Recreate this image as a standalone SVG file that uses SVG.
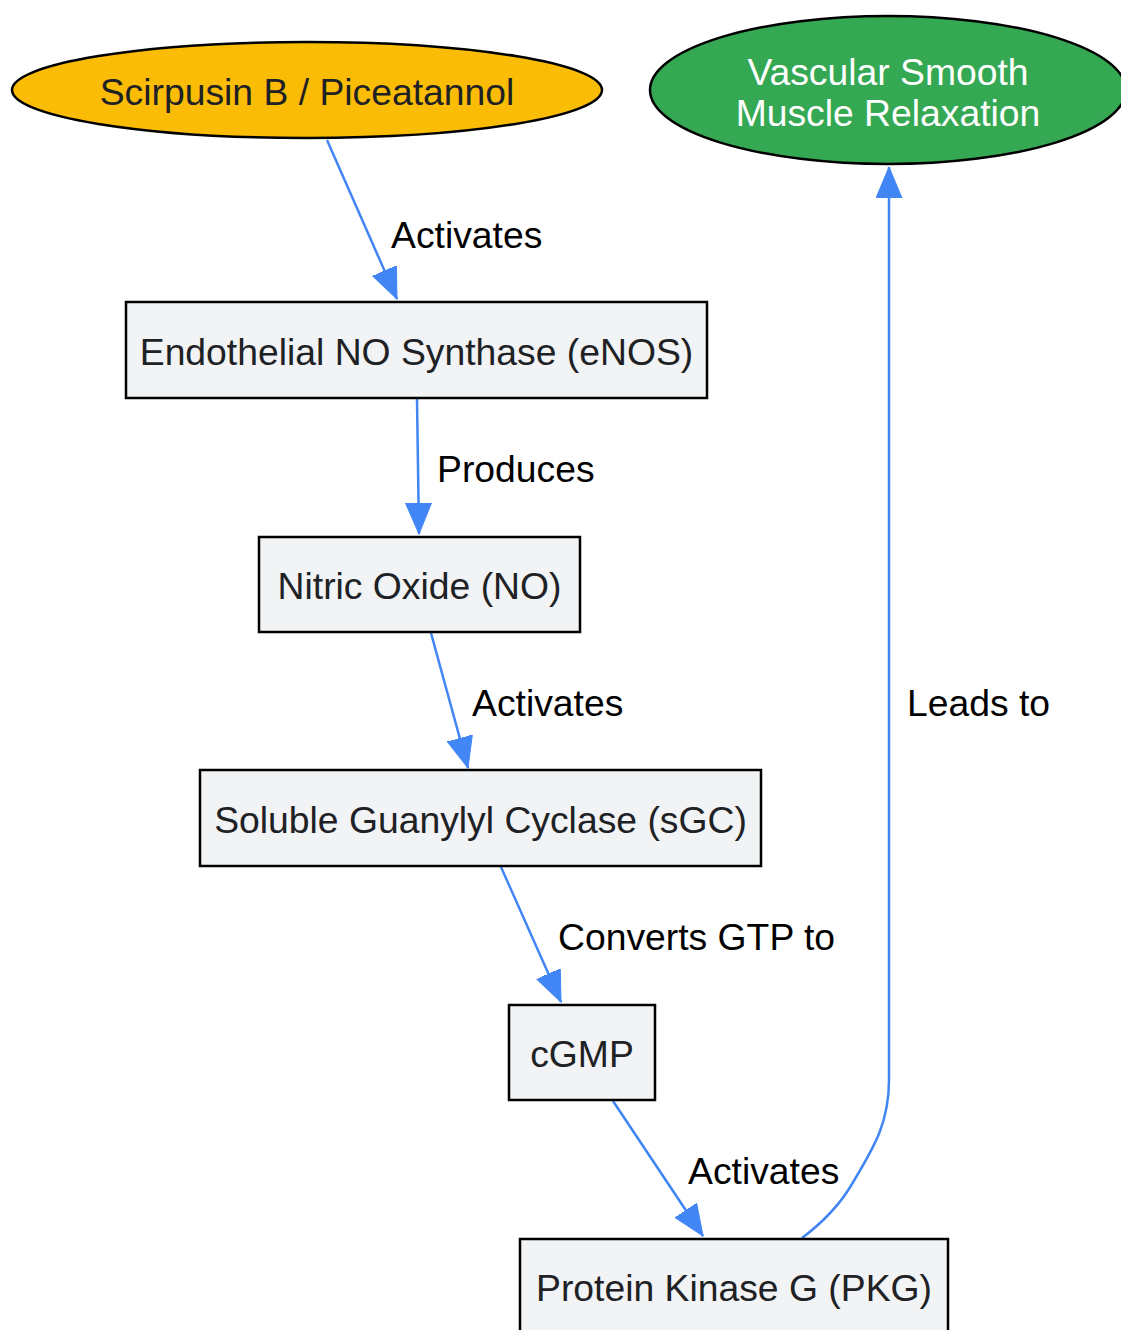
<svg xmlns="http://www.w3.org/2000/svg" width="1121" height="1330" viewBox="0 0 1121 1330">
<style>
.box{fill:#f1f3f4;stroke:#000;stroke-width:2.5}
.nt{font-family:"Liberation Sans",Arial,sans-serif;font-size:37.3px;fill:#202124;text-anchor:middle}
.el{font-family:"Liberation Sans",Arial,sans-serif;font-size:37.3px;fill:#000}
.edge{fill:none;stroke:#4285f4;stroke-width:2.5}
</style>
<defs>
<marker id="ah" markerUnits="userSpaceOnUse" markerWidth="32" markerHeight="28" refX="31" refY="13" orient="auto">
<path d="M0,0 L31,13 L0,26 z" fill="#4285f4" stroke="#4285f4" stroke-width="1"/>
</marker>
</defs>
<rect width="1121" height="1330" fill="#fff"/>
<g id="connectors">
<path class="edge" d="M327,140 L397,299" marker-end="url(#ah)"/>
<text class="el" x="391" y="248">Activates</text>
<path class="edge" d="M417,399 L419,534" marker-end="url(#ah)"/>
<text class="el" x="437" y="482">Produces</text>
<path class="edge" d="M431,633 L468,768" marker-end="url(#ah)"/>
<text class="el" x="472" y="716">Activates</text>
<path class="edge" d="M501,867 L561,1002" marker-end="url(#ah)"/>
<text class="el" x="558" y="950">Converts GTP to</text>
<path class="edge" d="M613,1101 L703,1236" marker-end="url(#ah)"/>
<text class="el" x="688" y="1184">Activates</text>
<path class="edge" d="M802,1238 C818,1226 838,1208 852,1184 C872,1150 889,1125 889,1080 L889,167" marker-end="url(#ah)"/>
<text class="el" x="907" y="716">Leads to</text>
</g>
<g id="scirpusin">
<ellipse cx="307" cy="90" rx="295" ry="48" fill="#fbbc05" stroke="#000" stroke-width="2.5"/>
<text class="nt" x="307" y="105">Scirpusin B / Piceatannol</text>
</g>
<g id="relaxation">
<ellipse cx="888" cy="90" rx="238" ry="74" fill="#34a853" stroke="#000" stroke-width="2.5"/>
<text class="nt" x="888" y="85" style="fill:#fff">Vascular Smooth</text>
<text class="nt" x="888" y="126" style="fill:#fff">Muscle Relaxation</text>
</g>
<g id="enos">
<rect class="box" x="126" y="302" width="581" height="96"/>
<text class="nt" x="416.5" y="365">Endothelial NO Synthase (eNOS)</text>
</g>
<g id="no">
<rect class="box" x="259" y="537" width="321" height="95"/>
<text class="nt" x="419.5" y="599">Nitric Oxide (NO)</text>
</g>
<g id="sgc">
<rect class="box" x="200" y="770" width="561" height="96"/>
<text class="nt" x="480.5" y="833">Soluble Guanylyl Cyclase (sGC)</text>
</g>
<g id="cgmp">
<rect class="box" x="509" y="1005" width="146" height="95"/>
<text class="nt" x="582" y="1067">cGMP</text>
</g>
<g id="pkg">
<rect class="box" x="520" y="1239" width="428" height="96"/>
<text class="nt" x="734" y="1301">Protein Kinase G (PKG)</text>
</g>
</svg>
